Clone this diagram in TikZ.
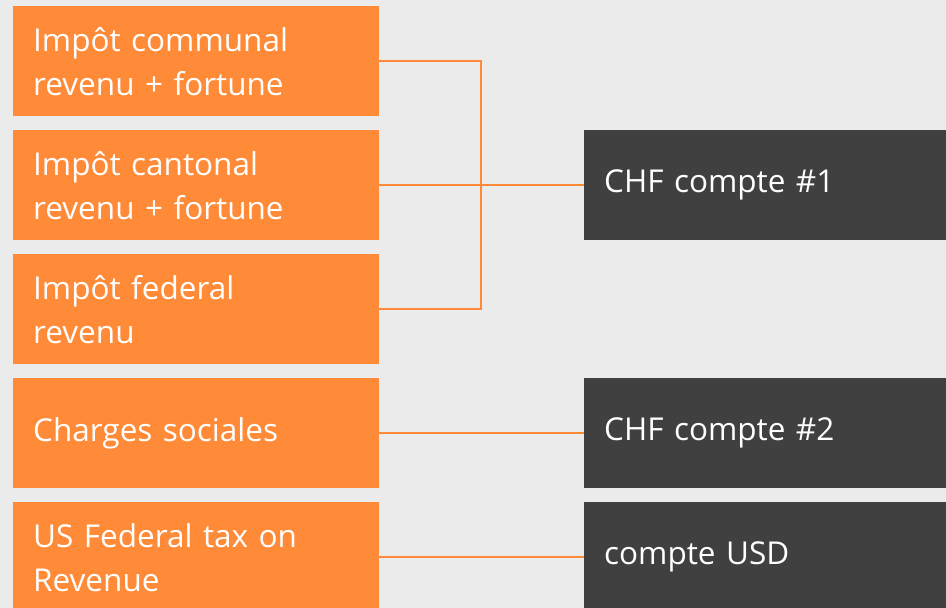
\documentclass[tikz,border=0pt]{standalone}
\usepackage{fontspec}
\setmainfont{Open Sans}
\definecolor{bg}{HTML}{EBEBEB}
\definecolor{orng}{HTML}{FF8B38}
\definecolor{dgray}{HTML}{404040}
\begin{document}
\begin{tikzpicture}[x=1pt,y=-1pt,
  box/.style={rectangle,anchor=north west,minimum height=110pt,text width=326pt,
    inner xsep=20pt,inner ysep=0pt,align=left,text=white,
    font=\fontsize{31.5}{44}\selectfont},
  obox/.style={box,fill=orng},
  dbox/.style={box,fill=dgray},
  conn/.style={draw=orng,line width=2.2pt}]
\useasboundingbox (0,0) rectangle (946,608);
\fill[bg] (0,0) rectangle (946,608);
\node[obox] (o1) at (13,6) {Impôt communal\\revenu + fortune};
\node[obox] (o2) at (13,130) {Impôt cantonal\\revenu + fortune};
\node[obox] (o3) at (13,254) {Impôt federal\\revenu};
\node[obox] (o4) at (13,378) {Charges sociales};
\node[obox] (o5) at (13,502) {US Federal tax on\\Revenue};
\node[dbox] (d1) at (584,130) {CHF compte \#1};
\node[dbox] (d2) at (584,378) {CHF compte \#2};
\node[dbox] (d3) at (584,502) {compte USD};
\coordinate (j) at (481,0);
\draw[conn] (o1.east) -- (o1.east -| j) -- (o3.east -| j) -- (o3.east);
\draw[conn] (o2.east) -- (d1.west);
\draw[conn] (o4.east) -- (d2.west);
\draw[conn] (o5.east) -- (d3.west);
\end{tikzpicture}
\end{document}
